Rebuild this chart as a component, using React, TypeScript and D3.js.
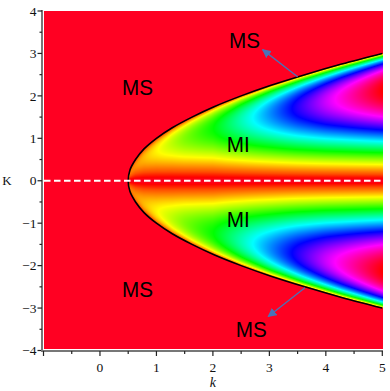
import React, { useMemo } from "react";
import * as d3 from "d3";

// axis ticks
const xTicks = [-1, 0, 1, 2, 3, 4, 5];
const xTickLabels = ["", "0", "1", "2", "3", "4", "5"];
const xMinor = [-0.5, 0.5, 1.5, 2.5, 3.5, 4.5];
const yTicks = [-4, -3, -2, -1, 0, 1, 2, 3, 4];
const yTickLabels = ["\u22124", "\u22123", "\u22122", "\u22121", "0", "1", "2", "3", "4"];
const yMinor = [-3.5, -2.5, -1.5, -0.5, 0.5, 1.5, 2.5, 3.5];

// MI / MS boundary: |K| -> k
const boundaryK = [0, 0.25, 0.5, 0.75, 1, 1.25, 1.5, 1.75, 2, 2.25, 2.5, 2.75, 3.0];
const boundaryk = [0.5, 0.53, 0.63, 0.78, 1.0, 1.28, 1.63, 2.03, 2.5, 3.03, 3.63, 4.28, 5.0];

// hue reached on the crest of the gain band, for each k
const crestk = [0.5, 1, 1.5, 2, 2.5, 3, 3.5, 4, 4.5, 5];
const crestHue = [0.07, 0.16, 0.25, 0.33, 0.45, 0.57, 0.69, 0.8, 0.9, 1.0];

// region labels (baseline anchor, data coords)
const regionLabels = [
  { text: "MS", k: 0.664, K: 2.03, len: 31 },
  { text: "MS", k: 2.56, K: 3.13, len: 31 },
  { text: "MI", k: 2.45, K: 0.68, len: 23 },
  { text: "MI", k: 2.45, K: -1.08, len: 23 },
  { text: "MS", k: 0.664, K: -2.74, len: 31 },
  { text: "MS", k: 2.68, K: -3.68, len: 31 },
];

// arrows: from boundary to label
const arrows = [
  { k0: 3.5, K0: 2.45, k1: 2.88, K1: 3.09 },
  { k0: 3.63, K0: -2.52, k1: 2.98, K1: -3.2 },
];

const W = 390;
const H = 391;
const PX0 = 44;
const PX1 = 383;
const PY0 = 11;
const PY1 = 349;

const x = d3.scaleLinear().domain([-1, 5]).range([43.5, 382.3]);
const y = d3.scaleLinear().domain([-4, 4]).range([350.5, 11]);

function hueColor(h: number) {
  const deg = h < 0.05 ? -8 + (h / 0.05) * 26 : h * 360;
  return d3.hsl(deg, 1, 0.5).rgb();
}

function useField() {
  return useMemo(() => {
    const w = PX1 - PX0;
    const h = PY1 - PY0;
    const canvas = document.createElement("canvas");
    canvas.width = w;
    canvas.height = h;
    const ctx = canvas.getContext("2d")!;
    const img = ctx.createImageData(w, h);
    const edgeK = d3.scaleLinear().domain(boundaryK).range(boundaryk).clamp(true);
    const edgek = d3.scaleLinear().domain(boundaryk).range(boundaryK).clamp(true);
    const crest = d3.scaleLinear().domain(crestk).range(crestHue).clamp(true);
    for (let py = 0; py < h; py++) {
      const K = y.invert(PY0 + py + 0.5);
      const a = Math.abs(K);
      for (let px = 0; px < w; px++) {
        const k = x.invert(PX0 + px + 0.5);
        let hv = 0;
        if (a < 3 && k > edgeK(a)) {
          const Kc = edgek(k);
          const u = Math.min(a / Kc, 1);
          const s = Math.pow(2 * u * Math.sqrt(1 - u * u), 1.3);
          hv = s * crest(k);
        }
        const c = hueColor(hv);
        const i = (py * w + px) * 4;
        img.data[i] = c.r;
        img.data[i + 1] = c.g;
        img.data[i + 2] = c.b;
        img.data[i + 3] = 255;
      }
    }
    ctx.putImageData(img, 0, 0);
    return canvas.toDataURL();
  }, []);
}

export default function App() {
  const field = useField();

  const pts: [number, number][] = [
    ...boundaryK.map((K, i) => [boundaryk[i], -K] as [number, number]).reverse(),
    ...boundaryK.slice(1).map((K, i) => [boundaryk[i + 1], K] as [number, number]),
  ];
  const edge = d3
    .line<[number, number]>()
    .x((d) => x(d[0]))
    .y((d) => y(d[1]))
    .curve(d3.curveCatmullRom)(pts);

  const serif = "'Liberation Serif', 'Times New Roman', serif";
  const sans = "'Liberation Sans', Arial, sans-serif";

  return (
    <svg width={W} height={H} style={{ position: "absolute", left: 0, top: 0 }}>
      <defs>
        <marker id="ah" viewBox="0 0 10 10" refX="9" refY="5" markerWidth="9" markerHeight="9" markerUnits="userSpaceOnUse" orient="auto">
          <path d="M0,0 L10,5 L0,10 z" fill="#4a72b8" />
        </marker>
      </defs>
      <rect width={W} height={H} fill="#fff" />
      <image href={field} x={PX0} y={PY0} width={PX1 - PX0} height={PY1 - PY0} />
      <path d={edge ?? ""} fill="none" stroke="#000" strokeWidth={1.6} />
      <line x1={PX0} x2={PX1} y1={y(0)} y2={y(0)} stroke="#fff" strokeWidth={2} strokeDasharray="6.5 3.5" />

      {arrows.map((a, i) => (
        <line key={i} x1={x(a.k0)} y1={y(a.K0)} x2={x(a.k1)} y2={y(a.K1)} stroke="#4a72b8" strokeWidth={1.3} markerEnd="url(#ah)" />
      ))}

      {regionLabels.map((l, i) => (
        <text key={i} x={x(l.k)} y={y(l.K)} textAnchor="middle" fontFamily={sans} fontSize={22} textLength={l.len} lengthAdjust="spacingAndGlyphs" fill="#000">
          {l.text}
        </text>
      ))}

      {/* left axis */}
      <line x1={42} x2={42} y1={y(4) - 1} y2={352} stroke="#777" strokeWidth={2} />
      {yTicks.map((t, i) => (
        <g key={t}>
          <line x1={37.5} x2={42} y1={y(t)} y2={y(t)} stroke="#222" strokeWidth={1.2} />
          <text x={36.5} y={y(t)} dy="0.35em" textAnchor="end" fontFamily={serif} fontSize={13.5} fill="#111">
            {yTickLabels[i]}
          </text>
        </g>
      ))}
      {yMinor.map((t) => (
        <line key={t} x1={39.5} x2={42} y1={y(t)} y2={y(t)} stroke="#222" strokeWidth={1.2} />
      ))}
      <text x={7} y={y(0)} dy="0.35em" textAnchor="middle" fontFamily={serif} fontSize={13} fill="#111">K</text>

      {/* bottom axis */}
      <line x1={41} x2={383} y1={351} y2={351} stroke="#777" strokeWidth={2} />
      {xTicks.map((t, i) => (
        <g key={t}>
          <line x1={x(t)} x2={x(t)} y1={351} y2={356} stroke="#222" strokeWidth={1.2} />
          <text x={x(t)} y={371.5} textAnchor="middle" fontFamily={serif} fontSize={13.5} fill="#111">
            {xTickLabels[i]}
          </text>
        </g>
      ))}
      {xMinor.map((t) => (
        <line key={t} x1={x(t)} x2={x(t)} y1={351} y2={354} stroke="#222" strokeWidth={1.2} />
      ))}
      <text x={x(2)} y={387} textAnchor="middle" fontFamily={serif} fontStyle="italic" fontSize={14} fill="#111">k</text>
    </svg>
  );
}
